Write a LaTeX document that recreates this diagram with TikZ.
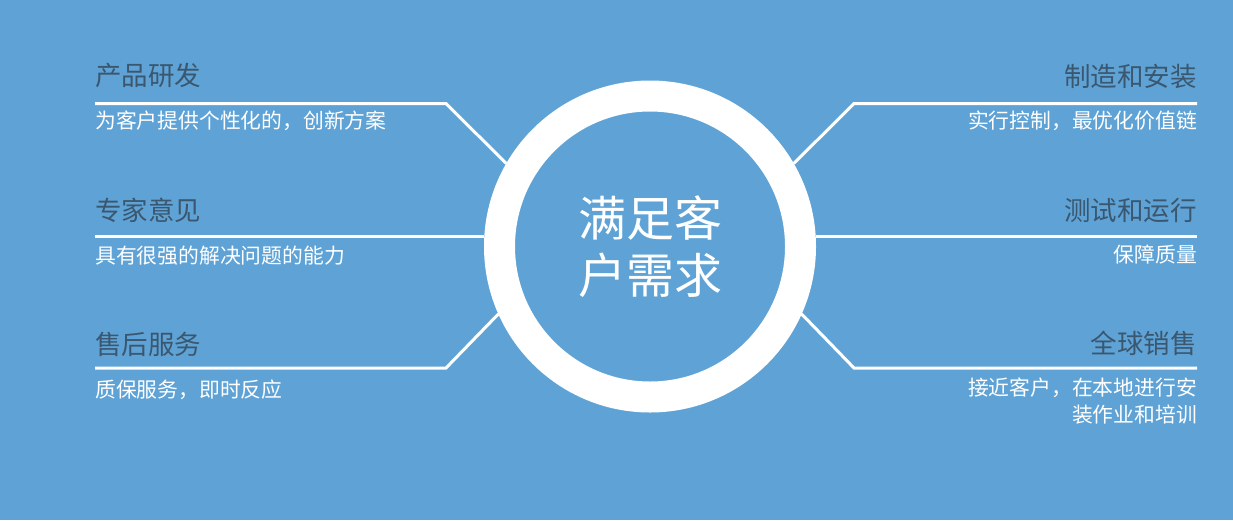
\documentclass[tikz,border=0pt]{standalone}
\usepackage{fontspec}
\setmainfont{Noto Sans CJK SC}
\usepackage{xcolor}

\definecolor{bgblue}{HTML}{5FA3D6}
\definecolor{headgray}{HTML}{3A576F}

\tikzset{
  hub/.style={circle, draw=white, line width=31pt, fill=bgblue, minimum size=301pt,
    inner sep=0pt, text=white, align=center, font=\fontsize{48}{57}\selectfont},
  heading/.style={inner sep=0pt, text=headgray, font=\fontsize{26.5}{30}\selectfont},
  detail/.style={inner sep=0pt, text=white, font=\fontsize{20.8}{27}\selectfont},
  link/.style={draw=white, line width=3pt}
}

\begin{document}
\begin{tikzpicture}[x=1pt, y=-1pt]
\fill[bgblue] (0,0) rectangle (1233,520);

% Centre ring
\node[hub] (need) at (650,246.5) {满足客\\户需求};

% Left branches
\coordinate (rdA) at (95,103.5);
\coordinate (rdB) at (446,103.5);
\coordinate (exA) at (95,236);
\coordinate (asA) at (95,368);
\coordinate (asB) at (446,368);
\draw[link] (rdA) -- (rdB) -- (need.150);
\draw[link] (exA) -- (exA -| need.west);
\draw[link] (asA) -- (asB) -- (need.204);

\node[heading, anchor=west] (rd) at (95,75.5) {产品研发};
\node[detail, anchor=west] (rdtxt) at (95,120.5) {为客户提供个性化的，创新方案};
\node[heading, anchor=west] (ex) at (95,210) {专家意见};
\node[detail, anchor=west] (extxt) at (95,256) {具有很强的解决问题的能力};
\node[heading, anchor=west] (as) at (95,344) {售后服务};
\node[detail, anchor=west] (astxt) at (95,390) {质保服务，即时反应};

% Right branches
\coordinate (mfA) at (1197,103.5);
\coordinate (mfB) at (854,103.5);
\coordinate (tsA) at (1197,236);
\coordinate (slA) at (1197,368);
\coordinate (slB) at (854,368);
\draw[link] (mfA) -- (mfB) -- (need.30);
\draw[link] (tsA) -- (tsA -| need.east);
\draw[link] (slA) -- (slB) -- (need.-24);

\node[heading, anchor=east] (mf) at (1197,76) {制造和安装};
\node[detail, anchor=east] (mftxt) at (1197,121) {实行控制，最优化价值链};
\node[heading, anchor=east] (ts) at (1197,210) {测试和运行};
\node[detail, anchor=east] (tstxt) at (1197,255) {保障质量};
\node[heading, anchor=east] (sl) at (1197,343) {全球销售};
\node[detail, anchor=east, align=right] (sltxt) at (1197,401.5) {接近客户，在本地进行安\\装作业和培训};
\end{tikzpicture}
\end{document}
